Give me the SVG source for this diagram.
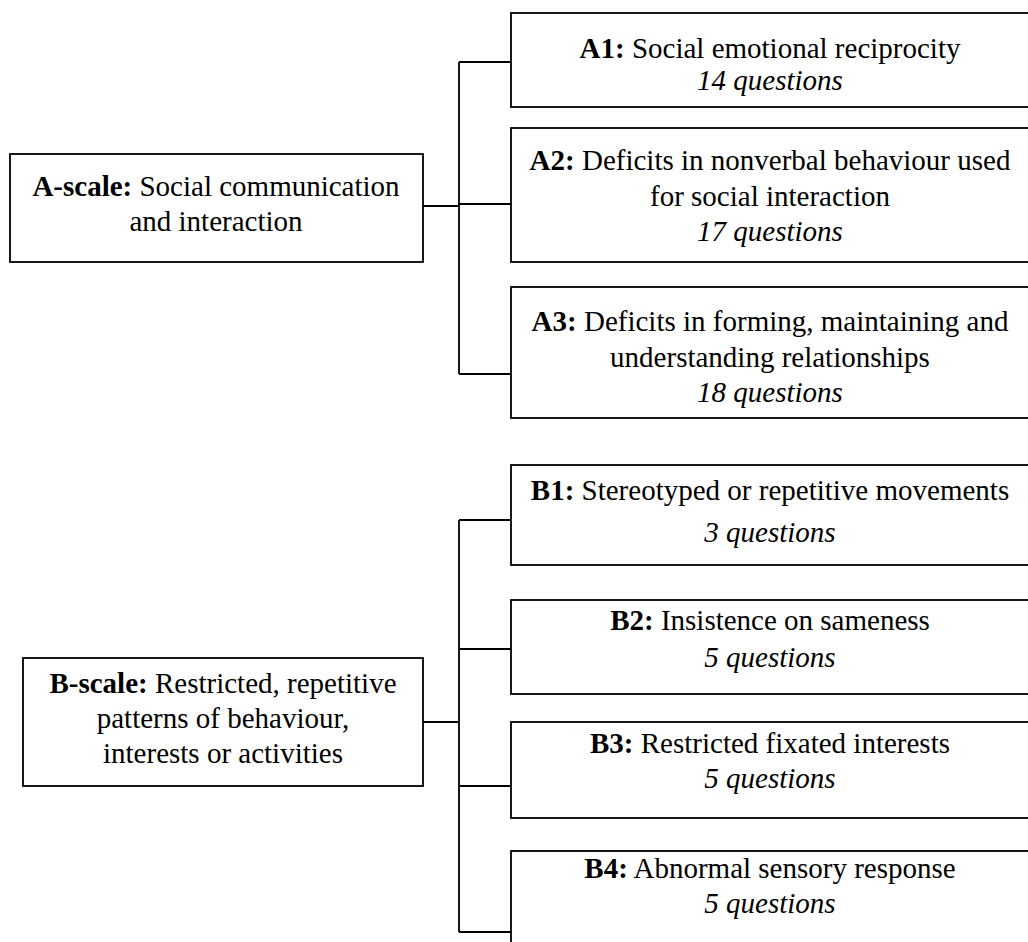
<svg xmlns="http://www.w3.org/2000/svg" width="1028" height="942" viewBox="0 0 1028 942">
<style>
.box{fill:#fff;stroke:#000;stroke-width:1.8}
.ln{fill:none;stroke:#000;stroke-width:1.8}
.b{font-weight:bold}
.i{font-style:italic}
</style>
<rect width="1028" height="942" fill="#fff"/>
<g id="connectors">
<path class="ln" d="M423,206 H459 M459,62 V374 M459,62 H511 M459,204 H511 M459,374 H511"/>
<path class="ln" d="M423,722 H459 M459,520 V932 M459,520 H511 M459,649 H511 M459,786 H511 M459,932 H511"/>
</g>
<g font-family="Liberation Serif, serif" font-size="29" fill="#000" text-anchor="middle">
<g id="a-scale">
<rect class="box" x="10" y="154" width="413" height="108"/>
<text x="216" y="196"><tspan class="b">A-scale:</tspan> Social communication</text>
<text x="216" y="231">and interaction</text>
</g>
<g id="a1">
<rect class="box" x="511" y="13" width="520" height="94"/>
<text x="770" y="58"><tspan class="b">A1:</tspan> Social emotional reciprocity</text>
<text x="770" y="90" class="i">14 questions</text>
</g>
<g id="a2">
<rect class="box" x="511" y="128" width="520" height="134"/>
<text x="770" y="170"><tspan class="b">A2:</tspan> Deficits in nonverbal behaviour used</text>
<text x="770" y="206">for social interaction</text>
<text x="770" y="241" class="i">17 questions</text>
</g>
<g id="a3">
<rect class="box" x="511" y="287" width="520" height="131"/>
<text x="770" y="331"><tspan class="b">A3:</tspan> Deficits in forming, maintaining and</text>
<text x="770" y="367">understanding relationships</text>
<text x="770" y="402" class="i">18 questions</text>
</g>
<g id="b-scale">
<rect class="box" x="23" y="658" width="400" height="128"/>
<text x="223" y="693"><tspan class="b">B-scale:</tspan> Restricted, repetitive</text>
<text x="223" y="728">patterns of behaviour,</text>
<text x="223" y="763">interests or activities</text>
</g>
<g id="b1">
<rect class="box" x="511" y="465" width="520" height="100"/>
<text x="770" y="500"><tspan class="b">B1:</tspan> Stereotyped or repetitive movements</text>
<text x="770" y="542" class="i">3 questions</text>
</g>
<g id="b2">
<rect class="box" x="511" y="600" width="520" height="94"/>
<text x="770" y="630"><tspan class="b">B2:</tspan> Insistence on sameness</text>
<text x="770" y="667" class="i">5 questions</text>
</g>
<g id="b3">
<rect class="box" x="511" y="722" width="520" height="96"/>
<text x="770" y="753"><tspan class="b">B3:</tspan> Restricted fixated interests</text>
<text x="770" y="788" class="i">5 questions</text>
</g>
<g id="b4">
<rect class="box" x="511" y="851" width="520" height="100"/>
<text x="770" y="878"><tspan class="b">B4:</tspan> Abnormal sensory response</text>
<text x="770" y="913" class="i">5 questions</text>
</g>
</g>
</svg>
